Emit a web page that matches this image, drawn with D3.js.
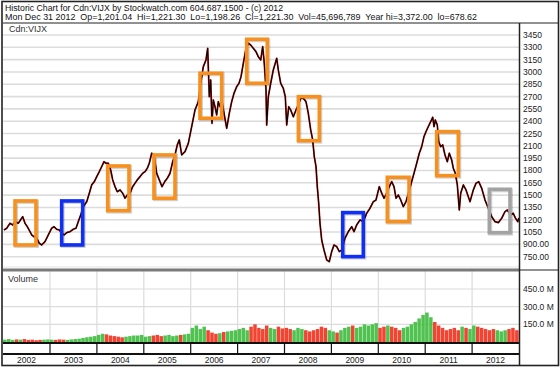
<!DOCTYPE html>
<html><head><meta charset="utf-8">
<script src="https://cdn.jsdelivr.net/npm/d3@7"></script>
<style>
html,body{margin:0;padding:0;background:#fff;}
svg{display:block;font-family:"Liberation Sans",Arial,sans-serif;}
</style></head>
<body>
<svg id="c" width="560" height="370"></svg>
<script>
// ---- data ----
const titleLine1 = "Historic Chart for Cdn:VIJX by Stockwatch.com 604.687.1500 - (c) 2012";
const titleLine2 = "Mon Dec 31 2012  Op=1,201.04  Hi=1,221.30  Lo=1,198.26  Cl=1,221.30  Vol=45,696,789  Year hi=3,372.00  lo=678.62";
const symbol = "Cdn:VIJX";
const years = [2002,2003,2004,2005,2006,2007,2008,2009,2010,2011,2012];
const priceTicks = [3450,3300,3150,3000,2850,2700,2550,2400,2250,2100,1950,1800,1650,1500,1350,1200,1050,900,750];
const priceTickLabels = ["3450","3300","3150","3000","2850","2700","2550","2400","2250","2100","1950","1800","1650","1500","1350","1200","1050","900.00","750.00"];
const volTicks = [150,300,450];
const volTickLabels = ["150.0 M","300.0 M","450.0 M"];
// decimal year
const priceDates = [2002.019,2002.077,2002.147,2002.205,2002.254,2002.324,2002.418,2002.467,2002.516,2002.574,2002.610,2002.659,2002.716,2002.772,2002.823,2002.893,2002.964,
2003.036,2003.085,2003.143,2003.198,2003.249,2003.305,2003.356,2003.426,2003.497,2003.554,2003.603,2003.655,2003.710,2003.783,2003.838,2003.889,2003.945,2003.996,
2004.051,2004.102,2004.151,2004.194,2004.243,2004.294,2004.337,2004.386,2004.435,2004.493,2004.550,2004.599,2004.648,2004.706,2004.763,2004.812,2004.861,2004.919,2004.977,
2005.026,2005.075,2005.117,2005.168,2005.217,2005.275,2005.330,2005.388,2005.446,2005.501,2005.559,2005.616,2005.665,2005.714,2005.757,2005.808,2005.878,2005.949,
2006.021,2006.092,2006.162,2006.213,2006.269,2006.326,2006.362,2006.375,2006.397,2006.426,2006.454,2006.482,2006.518,2006.554,2006.589,2006.625,2006.661,2006.710,2006.768,2006.823,2006.874,2006.923,2006.981,
2007.030,2007.073,2007.122,2007.173,2007.228,2007.279,2007.335,2007.392,2007.441,2007.493,2007.535,2007.569,2007.606,2007.620,2007.655,2007.706,2007.761,2007.834,2007.868,2007.919,2007.974,
2008.017,2008.047,2008.090,2008.132,2008.188,2008.245,2008.294,2008.345,2008.401,2008.458,2008.507,2008.559,2008.601,2008.635,2008.672,2008.699,2008.729,2008.757,2008.793,2008.842,2008.900,2008.955,
2009.006,2009.055,2009.113,2009.168,2009.220,2009.290,2009.360,2009.433,2009.482,2009.539,2009.610,2009.680,2009.753,2009.823,2009.893,2009.951,
2010.021,2010.073,2010.122,2010.179,2010.234,2010.286,2010.335,2010.378,2010.426,2010.478,2010.533,2010.591,2010.661,2010.712,2010.761,2010.819,2010.874,2010.925,2010.974,
2011.017,2011.066,2011.117,2011.160,2011.188,2011.215,2011.258,2011.288,2011.330,2011.373,2011.422,2011.471,2011.514,2011.565,2011.599,2011.642,2011.685,2011.727,2011.757,2011.813,2011.870,2011.919,2011.955,
2012.026,2012.083,2012.141,2012.205,2012.275,2012.346,2012.418,2012.489,2012.559,2012.631,2012.701,2012.750,2012.820,2012.877,2012.926,2012.975,2012.997];
const priceValues = [1076,1097,1157,1137,1177,1157,1238,1157,1116,1055,1015,994,975,914,893,933,1015,
1097,1116,1084,1076,1036,1015,1043,1055,1084,1097,1177,1258,1360,1420,1523,1624,1664,1725,
1786,1847,1907,1888,1888,1806,1685,1603,1542,1563,1523,1462,1502,1523,1603,1644,1685,1725,1766,
1786,1827,1888,2010,1989,1766,1685,1603,1664,1705,1766,1907,1989,2111,2172,1989,2029,2131,
2334,2537,2638,2862,3064,3146,3288,3064,2699,2902,2375,2659,2577,2476,2638,2577,2659,2497,2314,2497,2638,2740,2821,
2862,2942,3105,3267,3349,3328,3288,3247,3186,3146,3308,3105,2780,2354,2699,2862,3024,3166,3024,2862,2801,
2699,2354,2577,2537,2455,2537,2598,2679,2679,2638,2497,2293,2172,1968,1847,1603,1401,1157,954,832,711,690,
812,893,873,812,832,975,1055,1116,1055,1137,1198,1177,1280,1340,1420,1441,
1603,1523,1462,1523,1603,1664,1603,1462,1502,1441,1360,1420,1563,1664,1766,1888,2010,2090,2212,
2273,2334,2394,2448,2334,2415,2354,2151,2090,2111,1989,1907,2010,1928,1827,1766,1624,1319,1523,1624,1563,1481,1420,
1563,1644,1664,1583,1441,1340,1238,1177,1165,1218,1299,1319,1258,1279,1218,1177,1221];
// monthly volume, millions of shares
const volumeMonthly = [
 20,25,18,22,20,25,18,20,15,18,20,22,
 20,18,22,20,18,22,25,28,35,40,45,50,
 60,70,65,55,50,45,40,45,50,55,55,60,
 45,50,55,60,50,55,60,50,55,60,65,70,
 120,140,110,130,100,80,70,75,85,90,95,100,
 110,120,100,130,150,120,110,140,120,110,130,115,
 120,110,100,120,110,100,90,100,110,130,120,100,
 90,80,100,120,130,140,120,130,150,140,150,160,
 120,130,140,130,120,100,120,130,150,170,200,230,
 250,210,170,140,120,100,110,120,100,130,120,110,
 140,130,120,110,100,110,100,90,100,110,120,100];
// annotation boxes: start, end (decimal year), high, low (price), colour kind
const boxStart = [2002.254,2003.249,2004.230,2005.217,2006.198,2007.194,2008.296,2009.241,2010.192,2011.245,2012.367];
const boxEnd   = [2002.701,2003.697,2004.684,2005.665,2006.661,2007.633,2008.742,2009.680,2010.655,2011.706,2012.808];
const boxHigh  = [1429,1429,1855,1989,2984,3398,2699,1287,1717,2273,1571];
const boxLow   = [893,893,1311,1462,2436,2862,2163,751,1177,1737,1043];
const boxKind  = ["orange","blue","orange","orange","orange","orange","orange","blue","orange","orange","gray"];

// ---- layout ----
const L = 3, R = 519.5, mainTop = 23, mainBot = 270, volBot = 343, yearTop = 354, bottom = 365;
const svg = d3.select("#c");
const x = d3.scaleLinear().domain([2002, 2013]).range([3.1, 519]);
const yP = d3.scaleLinear().domain([750, 3450]).range([256.7, 35]);
const yV = d3.scaleLinear().domain([0, 450]).range([342, 289]);
const boxColor = {orange:"#f7901e", blue:"#0f2ff5", gray:"#a3a3a3"};

// header
svg.append("text").attr("x",5).attr("y",10.5).attr("font-size",9.2).attr("fill","#111")
  .attr("textLength",278).attr("lengthAdjust","spacingAndGlyphs").text(titleLine1);
svg.append("text").attr("x",5).attr("y",20).attr("font-size",9.2).attr("fill","#111").attr("xml:space","preserve")
  .attr("textLength",472).attr("lengthAdjust","spacingAndGlyphs").text(titleLine2);

// main gridlines
svg.append("g").selectAll("line").data(priceTicks).join("line")
  .attr("x1",L).attr("x2",R).attr("y1",d=>yP(d)).attr("y2",d=>yP(d))
  .attr("stroke","#dcdcdc").attr("stroke-width",1.6);
svg.append("line").attr("x1",L).attr("x2",R).attr("y1",267).attr("y2",267).attr("stroke","#e4e4e4").attr("stroke-width",1.2);

// price tick labels
svg.append("g").selectAll("text").data(priceTicks).join("text")
  .attr("x",523).attr("y",d=>yP(d)+3).attr("font-size",8.5).attr("fill","#222")
  .text((d,i)=>priceTickLabels[i]);

svg.append("text").attr("x",9).attr("y",32).attr("font-size",9).attr("fill","#333").text(symbol);

// price line
const pts = priceDates.map((d,i)=>[d, priceValues[i]]);
const line = d3.line().x(d=>x(d[0])).y(d=>yP(d[1]));
svg.append("path").datum(pts).attr("d",line).attr("fill","none").attr("stroke","#d8201a").attr("stroke-width",1.8).attr("stroke-linejoin","round");
svg.append("path").datum(pts).attr("d",line).attr("fill","none").attr("stroke","#000").attr("stroke-width",1.1).attr("stroke-linejoin","round");

// boxes
const boxes = boxStart.map((s,i)=>({s, e:boxEnd[i], h:boxHigh[i], l:boxLow[i], k:boxKind[i]}));
svg.append("g").selectAll("rect").data(boxes).join("rect")
  .attr("x",d=>x(d.s)+1).attr("y",d=>yP(d.h)+1).attr("width",d=>x(d.e)-x(d.s)).attr("height",d=>yP(d.l)-yP(d.h))
  .attr("fill","none").attr("stroke","rgba(0,0,0,0.18)").attr("stroke-width",4);
svg.append("g").selectAll("rect").data(boxes).join("rect")
  .attr("x",d=>x(d.s)).attr("y",d=>yP(d.h)).attr("width",d=>x(d.e)-x(d.s)).attr("height",d=>yP(d.l)-yP(d.h))
  .attr("fill","none").attr("stroke",d=>boxColor[d.k]).attr("stroke-width",3.6);

// volume panel grid
svg.append("g").selectAll("line").data(volTicks).join("line")
  .attr("x1",L).attr("x2",R).attr("y1",d=>yV(d)).attr("y2",d=>yV(d)).attr("stroke","#dcdcdc").attr("stroke-width",1.2);
svg.append("g").selectAll("line").data(years.slice(1)).join("line")
  .attr("x1",d=>x(d)).attr("x2",d=>x(d)).attr("y1",mainBot).attr("y2",volBot).attr("stroke","#dcdcdc").attr("stroke-width",1.2);
svg.append("g").selectAll("text").data(volTicks).join("text")
  .attr("x",523).attr("y",d=>yV(d)+3).attr("font-size",8.5).attr("fill","#222").text((d,i)=>volTickLabels[i]);
svg.append("text").attr("x",8).attr("y",282).attr("font-size",9).attr("fill","#333").text("Volume");

// volume bars, coloured by price direction over the month
const bis = d3.bisector(d=>d[0]).left;
function priceAt(t){
  const i = Math.max(1, Math.min(pts.length-1, bis(pts, t)));
  const a = pts[i-1], b = pts[i];
  return a[1] + (b[1]-a[1])*(t-a[0])/(b[0]-a[0]);
}
const vols = volumeMonthly.map((v,i)=>{
  const t0 = 2002 + i/12, t1 = 2002 + (i+1)/12;
  return {t0, t1, v, up: priceAt(t1) >= priceAt(t0)};
});
svg.append("g").selectAll("rect").data(vols).join("rect")
  .attr("x",d=>x(d.t0)).attr("width",d=>x(d.t1)-x(d.t0)-0.4)
  .attr("y",d=>yV(d.v)).attr("height",d=>volBot-yV(d.v))
  .attr("fill",d=>d.up ? "#3dbb3d" : "#f0301c").attr("opacity",0.9);

// frame lines
svg.append("line").attr("x1",L).attr("x2",R).attr("y1",mainBot).attr("y2",mainBot).attr("stroke","#7a7a7a").attr("stroke-width",3);
svg.append("line").attr("x1",R).attr("x2",558).attr("y1",mainBot).attr("y2",mainBot).attr("stroke","#222").attr("stroke-width",1);
svg.append("line").attr("x1",L).attr("x2",558).attr("y1",mainTop).attr("y2",mainTop).attr("stroke","#222").attr("stroke-width",1);
svg.append("line").attr("x1",L).attr("x2",R).attr("y1",volBot).attr("y2",volBot).attr("stroke","#111").attr("stroke-width",2);
svg.append("line").attr("x1",L).attr("x2",R).attr("y1",yearTop).attr("y2",yearTop).attr("stroke","#111").attr("stroke-width",2);
svg.append("g").selectAll("line").data(years.slice(1)).join("line")
  .attr("x1",d=>x(d)).attr("x2",d=>x(d)).attr("y1",volBot).attr("y2",yearTop).attr("stroke","#111").attr("stroke-width",1.2);
svg.append("g").selectAll("text").data(years).join("text")
  .attr("x",d=>x(d+0.5)).attr("y",363).attr("text-anchor","middle").attr("font-size",8.5).attr("fill","#222").text(d=>d);
svg.append("line").attr("x1",R).attr("x2",R).attr("y1",mainTop).attr("y2",bottom).attr("stroke","#222").attr("stroke-width",1.5);
svg.append("rect").attr("x",2).attr("y",1.5).attr("width",556.5).attr("height",364).attr("fill","none").attr("stroke","#222").attr("stroke-width",1.6);
</script>
</body></html>
